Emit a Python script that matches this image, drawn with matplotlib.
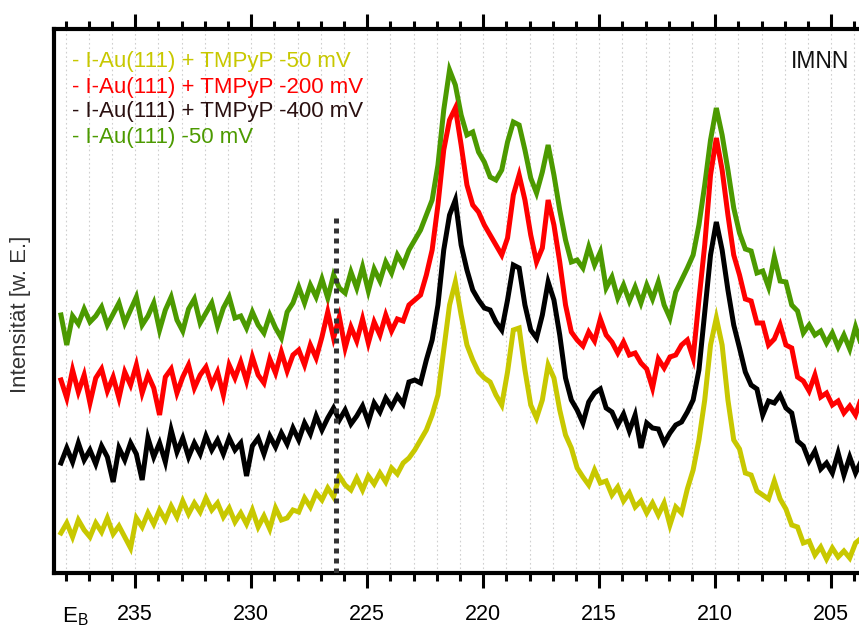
import numpy as np
import matplotlib
matplotlib.use("Agg")
import matplotlib.pyplot as plt
from matplotlib.ticker import MultipleLocator

plt.rcParams['font.family'] = ['Liberation Sans', 'DejaVu Sans']

# Binding energy grid (eV), 0.25 eV steps
E_start = 238.2
E_step = 0.25
n_pts = 139
energy = E_start - E_step * np.arange(n_pts)

# Intensities (arbitrary units)
green = [258, 228, 257, 249, 264, 251, 257, 266, 248, 259,
         270, 250, 263, 276, 248, 257, 270, 243, 263, 276,
         253, 242, 264, 274, 250, 260, 270, 247, 265, 276,
         255, 257, 245, 261, 248, 240, 258, 245, 235, 261,
         270, 286, 270, 288, 276, 294, 275, 298, 285, 280,
         301, 285, 306, 282, 304, 292, 311, 300, 318, 308,
         323, 333, 343, 358, 373, 408, 463, 503, 488, 458,
         438, 441, 421, 411, 396, 393, 403, 431, 451, 448,
         423, 395, 380, 401, 428, 398, 363, 333, 311, 313,
         305, 326, 308, 321, 285, 296, 275, 288, 272, 286,
         270, 288, 274, 291, 268, 255, 281, 293, 305, 318,
         348, 388, 433, 465, 438, 403, 365, 340, 324, 322,
         300, 302, 286, 316, 292, 291, 268, 262, 240, 248,
         238, 242, 230, 240, 226, 238, 224, 246, 228]

red = [193, 175, 203, 181, 198, 170, 195, 204, 182, 196,
       175, 201, 188, 208, 180, 198, 185, 158, 196, 204,
       180, 196, 208, 185, 198, 206, 188, 201, 178, 208,
       195, 211, 192, 216, 198, 190, 214, 200, 221, 202,
       218, 223, 208, 228, 215, 236, 261, 235, 256, 225,
       246, 232, 254, 230, 251, 238, 258, 242, 254, 252,
       268, 273, 278, 298, 323, 368, 423, 453, 465, 428,
       388, 368, 361, 348, 338, 328, 318, 335, 378, 398,
       373, 338, 311, 325, 373, 348, 311, 268, 241, 233,
       227, 241, 232, 254, 238, 231, 220, 231, 218, 220,
       210, 204, 185, 214, 205, 216, 218, 228, 233, 215,
       273, 328, 398, 435, 403, 358, 318, 298, 274, 272,
       250, 250, 228, 234, 248, 228, 225, 196, 192, 182,
       198, 176, 180, 168, 172, 160, 167, 158, 175]

black = [110, 125, 111, 130, 113, 123, 109, 127, 116, 91,
         125, 113, 130, 119, 93, 135, 116, 130, 111, 143,
         121, 135, 116, 130, 119, 137, 123, 133, 119, 135,
         123, 130, 97, 127, 135, 119, 137, 126, 140, 129,
         145, 133, 150, 139, 157, 143, 155, 165, 153, 163,
         149, 157, 167, 151, 170, 161, 175, 166, 177, 169,
         191, 193, 190, 213, 233, 268, 323, 358, 373, 328,
         303, 283, 273, 265, 263, 251, 243, 273, 308, 305,
         268, 243, 235, 258, 291, 273, 238, 195, 173, 163,
         150, 171, 180, 184, 165, 161, 148, 159, 142, 158,
         125, 150, 145, 144, 130, 140, 148, 151, 161, 173,
         203, 261, 318, 351, 323, 283, 248, 225, 201, 188,
         184, 158, 172, 170, 178, 165, 160, 132, 127, 112,
         122, 104, 110, 100, 120, 98, 116, 100, 112]

yellow = [40, 50, 36, 53, 43, 36, 50, 41, 55, 39,
          47, 36, 25, 55, 46, 60, 49, 63, 53, 67,
          56, 72, 59, 70, 61, 75, 63, 70, 56, 65,
          51, 60, 49, 63, 46, 57, 44, 65, 53, 55,
          63, 61, 75, 66, 80, 73, 85, 76, 97, 88,
          83, 95, 83, 97, 89, 100, 91, 105, 99, 110,
          115, 123, 133, 143, 158, 178, 223, 268, 291, 258,
          228, 213, 201, 195, 191, 178, 168, 201, 243, 245,
          203, 168, 155, 173, 208, 195, 163, 138, 125, 105,
          96, 88, 103, 90, 92, 78, 86, 72, 80, 66,
          72, 60, 70, 58, 70, 48, 66, 60, 84, 103,
          133, 173, 228, 255, 228, 173, 133, 124, 100, 98,
          82, 78, 74, 92, 74, 64, 48, 46, 30, 32,
          18, 26, 14, 25, 16, 22, 15, 30, 35]

labels = ["- I-Au(111) + TMPyP -50 mV",
          "- I-Au(111) + TMPyP -200 mV",
          "- I-Au(111) + TMPyP -400 mV",
          "- I-Au(111) -50 mV"]
text_colors = ['#c8c800', '#ff0000', '#2a1010', '#4c9a00']

x_ticks = [235, 230, 225, 220, 215, 210, 205]
marker_E = 226.35
marker_top = 355

fig = plt.figure(figsize=(8.59, 6.30), dpi=100)
ax = fig.add_axes([54 / 859, 57 / 630, 1.0 - 54 / 859, 544 / 630])

ax.set_xlim(238.5, 203.8)
ax.set_ylim(0, 544)

# grid at every 1 eV
for e in np.arange(238, 203, -1):
    ax.axvline(e, color='#cfcfcf', lw=0.8, ls=(0, (1.5, 2.5)), zorder=0)

for s, c in zip([green, red, black, yellow],
                ['#4c9a00', '#ff0000', '#000000', '#c8c800']):
    ax.plot(energy, s, color=c, lw=3.6, solid_joinstyle='miter', zorder=3)

ax.vlines(marker_E, 0, marker_top, colors='#333333', lw=3.6,
          linestyles=(0, (1, 1)), zorder=4)

ax.spines['right'].set_visible(False)
for sp in ['left', 'bottom', 'top']:
    ax.spines[sp].set_linewidth(3)

ax.xaxis.set_minor_locator(MultipleLocator(1))
ax.set_xticks(x_ticks)
ax.tick_params(axis='x', which='major', direction='out', length=11, width=2.2,
               top=True, bottom=True, labelsize=15.5, pad=11)
ax.tick_params(axis='x', which='minor', direction='out', length=5.5, width=2.2,
               top=True, bottom=True)
ax.set_yticks([])

ax.set_ylabel("Intensität [w. E.]", fontsize=16, color='#333333')
ax.yaxis.set_label_coords(-0.028, 0.475)

fig.text(62 / 859, 1 - 617 / 630, r"E$_\mathregular{B}$", fontsize=16,
         va='center', ha='left')

for k, (lab, tc) in enumerate(zip(labels, text_colors)):
    fig.text(72 / 859, 1 - (62 + 25 * k) / 630, lab, color=tc, fontsize=16,
             va='center', ha='left')

fig.text(820 / 859, 1 - 62 / 630, "IMNN", fontsize=16.5, va='center',
         ha='center', color='#111111')

fig.savefig("out.png", dpi=100)
